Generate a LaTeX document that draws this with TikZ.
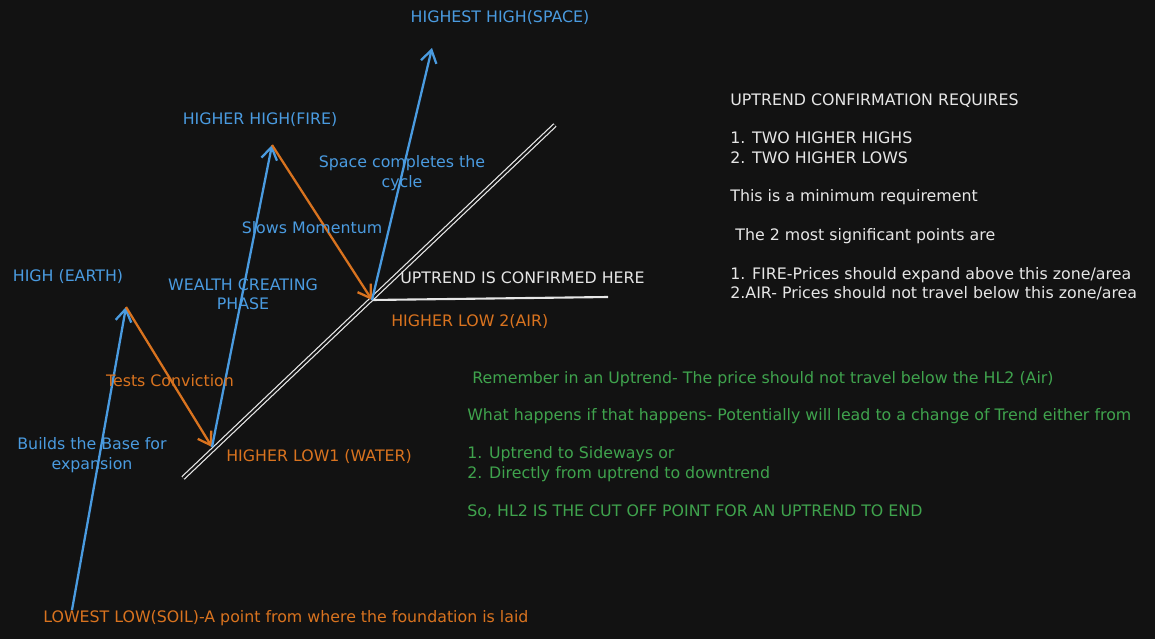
\documentclass[tikz,border=0pt]{standalone}
\usepackage{fontspec}
\setmainfont{DejaVu Sans}
\usetikzlibrary{arrows.meta}
\definecolor{bg}{HTML}{121212}
\definecolor{ublue}{HTML}{4A9BE0}
\definecolor{uorange}{HTML}{D9731F}
\definecolor{ugreen}{HTML}{3FA34D}
\definecolor{uwhite}{HTML}{E6E6E6}
\tikzset{
  leg/.style={line width=1.3pt, -{Straight Barb[length=7pt,width=9pt]}},
  up/.style={leg, color=ublue},
  down/.style={leg, color=uorange},
  lbl/.style={font=\fontsize{9}{11}\selectfont, inner sep=0pt, align=center},
  note/.style={lbl, anchor=west, align=left},
}
\begin{document}
\begin{tikzpicture}[x=0.02cm,y=-0.02cm]
  \fill[bg] (0,0) rectangle (1155,639);
  \useasboundingbox (0,0) rectangle (1155,639);
  % swing points
  \coordinate (LL) at (72,610);
  \coordinate (H) at (126,307);
  \coordinate (HL1) at (212,447);
  \coordinate (HH) at (272,145);
  \coordinate (HL2) at (372,300);
  \coordinate (HHH) at (432,48);
  \coordinate (T1) at (183,478);
  \coordinate (T2) at (555,125);
  \coordinate (C) at (608,297);
  % trend line
  \draw[uwhite, double=bg, double distance=1.2pt, line width=0.7pt] (T1) -- (T2);
  \draw[uwhite, line width=1.2pt] (HL2) -- (C);
  % legs
  \draw[up] (LL) -- (H);
  \draw[down] (H) -- (HL1);
  \draw[up] (HL1) -- (HH);
  \draw[down] (HH) -- (HL2);
  \draw[up] (HL2) -- (HHH);
  % labels
  \node[lbl, ublue] (lhhh) at (500,18) {HIGHEST HIGH(SPACE)};
  \node[lbl, ublue] (lhh) at (260,120) {HIGHER HIGH(FIRE)};
  \node[lbl, ublue] (lspace) at (402,173) {Space completes the\\cycle};
  \node[lbl, ublue] (lslow) at (312,228) {Slows Momentum};
  \node[lbl, ublue] (lh) at (68,277) {HIGH (EARTH)};
  \node[lbl, ublue] (lwealth) at (243,294) {WEALTH CREATING\\PHASE};
  \node[lbl, ublue] (lbase) at (92,455) {Builds the Base for\\expansion};
  \node[lbl, uorange] (ltest) at (170,381) {Tests Conviction};
  \node[note, uwhite] (lconf) at (400,278) {UPTREND IS CONFIRMED HERE};
  \node[note, uorange] (lhl2) at (391,322) {HIGHER LOW 2(AIR)};
  \node[note, uorange] (lhl1) at (226,457) {HIGHER LOW1 (WATER)};
  \node[note, uorange] (lll) at (43,618) {LOWEST LOW(SOIL)-A point from where the foundation is laid};
  % notes
  \node[note, uwhite, anchor=north west] (rules) at (730,93) {UPTREND CONFIRMATION REQUIRES\\[11pt]
    1. TWO HIGHER HIGHS\\2. TWO HIGHER LOWS\\[11pt]
    This is a minimum requirement\\[11pt]
    \ The 2 most significant points are\\[11pt]
    1. FIRE-Prices should expand above this zone/area\\
    2.AIR- Prices should not travel below this zone/area};
  \node[note, ugreen, anchor=north west] (warn) at (467,371) {\ Remember in an Uptrend- The price should not travel below the HL2 (Air)\\[10pt]
    What happens if that happens- Potentially will lead to a change of Trend either from\\[11pt]
    1. Uptrend to Sideways or\\2. Directly from uptrend to downtrend\\[11pt]
    So, HL2 IS THE CUT OFF POINT FOR AN UPTREND TO END};
\end{tikzpicture}
\end{document}
